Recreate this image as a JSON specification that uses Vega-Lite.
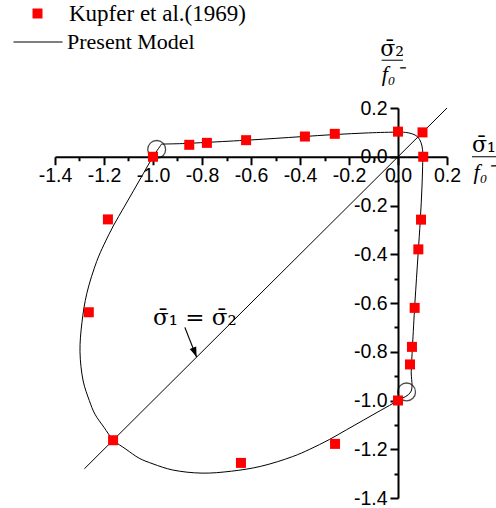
{
  "$schema": "https://vega.github.io/schema/vega-lite/v6.json",
  "width": 392,
  "height": 390,
  "autosize": {"type": "none"},
  "padding": {"left": 55, "top": 108, "right": 49, "bottom": 10},
  "background": "white",
  "config": {
    "view": {"stroke": null},
    "axis": {
      "grid": false,
      "title": null,
      "domainColor": "black",
      "domainWidth": 2,
      "tickColor": "black",
      "tickWidth": 2,
      "labelColor": "black",
      "labelFont": "Liberation Sans",
      "labelFontSize": 19.5,
      "labelOverlap": false,
      "labelFlush": false,
      "labelBound": false
    }
  },
  "datasets": {
    "kupfer": [
      {"x": -1.0, "y": 0.0}, {"x": 0.0, "y": -1.0},
      {"x": -0.852, "y": 0.049}, {"x": 0.049, "y": -0.852},
      {"x": -0.78, "y": 0.057}, {"x": 0.057, "y": -0.78},
      {"x": -0.62, "y": 0.068}, {"x": 0.068, "y": -0.62},
      {"x": -0.38, "y": 0.083}, {"x": 0.083, "y": -0.38},
      {"x": -0.258, "y": 0.094}, {"x": 0.094, "y": -0.258},
      {"x": 0.0, "y": 0.103}, {"x": 0.103, "y": 0.0},
      {"x": 0.1, "y": 0.1},
      {"x": -1.163, "y": -1.163},
      {"x": -1.262, "y": -0.638}, {"x": -0.641, "y": -1.256},
      {"x": -1.184, "y": -0.257}, {"x": -0.257, "y": -1.178}
    ],
    "model": [
      {"i": 1, "x": -0.965, "y": 0.052},
      {"i": 2, "x": -0.88, "y": 0.054},
      {"i": 3, "x": -0.78, "y": 0.059},
      {"i": 4, "x": -0.6, "y": 0.069},
      {"i": 5, "x": -0.4, "y": 0.082},
      {"i": 6, "x": -0.26, "y": 0.091},
      {"i": 7, "x": -0.12, "y": 0.098},
      {"i": 8, "x": 0.0, "y": 0.101},
      {"i": 9, "x": 0.03, "y": 0.1},
      {"i": 10, "x": 0.058, "y": 0.094},
      {"i": 11, "x": 0.08, "y": 0.082},
      {"i": 12, "x": 0.094, "y": 0.058},
      {"i": 13, "x": 0.1, "y": 0.03},
      {"i": 14, "x": 0.101, "y": 0.0},
      {"i": 15, "x": 0.098, "y": -0.12},
      {"i": 16, "x": 0.091, "y": -0.26},
      {"i": 17, "x": 0.082, "y": -0.4},
      {"i": 18, "x": 0.069, "y": -0.6},
      {"i": 19, "x": 0.059, "y": -0.78},
      {"i": 20, "x": 0.054, "y": -0.88},
      {"i": 21, "x": 0.052, "y": -0.965},
      {"i": 22, "x": 0.0, "y": -1.0},
      {"i": 23, "x": -0.07, "y": -1.04},
      {"i": 24, "x": -0.14, "y": -1.08},
      {"i": 25, "x": -0.21, "y": -1.12},
      {"i": 26, "x": -0.28, "y": -1.16},
      {"i": 27, "x": -0.36, "y": -1.2},
      {"i": 28, "x": -0.43, "y": -1.23},
      {"i": 29, "x": -0.56, "y": -1.27},
      {"i": 30, "x": -0.68, "y": -1.29},
      {"i": 31, "x": -0.8, "y": -1.298},
      {"i": 32, "x": -0.92, "y": -1.285},
      {"i": 33, "x": -1.0, "y": -1.26},
      {"i": 34, "x": -1.056, "y": -1.237},
      {"i": 35, "x": -1.11, "y": -1.2},
      {"i": 36, "x": -1.162, "y": -1.162},
      {"i": 37, "x": -1.2, "y": -1.11},
      {"i": 38, "x": -1.237, "y": -1.056},
      {"i": 39, "x": -1.26, "y": -1.0},
      {"i": 40, "x": -1.285, "y": -0.92},
      {"i": 41, "x": -1.298, "y": -0.8},
      {"i": 42, "x": -1.29, "y": -0.68},
      {"i": 43, "x": -1.27, "y": -0.56},
      {"i": 44, "x": -1.23, "y": -0.43},
      {"i": 45, "x": -1.2, "y": -0.36},
      {"i": 46, "x": -1.16, "y": -0.28},
      {"i": 47, "x": -1.12, "y": -0.21},
      {"i": 48, "x": -1.08, "y": -0.14},
      {"i": 49, "x": -1.04, "y": -0.07},
      {"i": 50, "x": -1.0, "y": 0.0},
      {"i": 51, "x": -0.965, "y": 0.052}
    ],
    "diag": [{"x": -1.28, "y": -1.28}, {"x": 0.2, "y": 0.2}],
    "rings": [{"x": -0.985, "y": 0.03}, {"x": 0.035, "y": -0.965}],
    "arrow": [{"x": -0.87, "y": -0.70, "x2": -0.822, "y2": -0.822}],
    "note": [{"x": -0.829, "y": -0.69, "t": "\u03c3\u0304\u2081 = \u03c3\u0304\u2082"}],
    "num": [
      {"x": 0.351, "y": 0.018, "t": "\u03c3\u0304\u2081"},
      {"x": -0.024, "y": 0.412, "t": "\u03c3\u0304\u2082"}
    ],
    "den": [
      {"x": 0.351, "y": -0.02, "t": "f\u2080\u207b"},
      {"x": -0.024, "y": 0.38, "t": "f\u2080\u207b"}
    ],
    "bars": [
      {"x": 0.302, "x2": 0.404, "y": 0.0},
      {"x": -0.067, "x2": 0.02, "y": 0.396}
    ]
  },
  "encoding": {
    "x": {"field": "x", "type": "quantitative", "scale": {"domain": [-1.4, 0.2], "nice": false, "zero": false}, "axis": null},
    "y": {"field": "y", "type": "quantitative", "scale": {"domain": [-1.4, 0.2], "nice": false, "zero": false}, "axis": null}
  },
  "layer": [
    {
      "data": {"name": "diag"},
      "mark": {"type": "line", "color": "black", "strokeWidth": 1},
      "encoding": {
        "x": {
          "field": "x", "type": "quantitative",
          "scale": {"domain": [-1.4, 0.2], "nice": false, "zero": false},
          "axis": {
            "orient": "bottom", "offset": -341.25,
            "values": [-1.4, -1.2, -1.0, -0.8, -0.6, -0.4, -0.2, 0.0, 0.2],
            "format": ".1f", "labelExpr": "replace(datum.label, '\u2212', '-')",
            "tickSize": 8, "labelPadding": 2
          }
        },
        "y": {
          "field": "y", "type": "quantitative",
          "scale": {"domain": [-1.4, 0.2], "nice": false, "zero": false},
          "axis": {
            "orient": "left", "offset": -343,
            "values": [-1.4, -1.2, -1.0, -0.8, -0.6, -0.4, -0.2, 0.0, 0.2],
            "format": ".1f", "labelExpr": "replace(datum.label, '\u2212', '-')",
            "tickSize": 8, "labelPadding": 3
          }
        }
      }
    },
    {
      "data": {"name": "diag"},
      "mark": {"type": "line", "strokeOpacity": 0},
      "encoding": {
        "x": {
          "field": "x", "type": "quantitative",
          "scale": {"domain": [-1.4, 0.2], "nice": false, "zero": false},
          "axis": {
            "orient": "bottom", "offset": -341.25, "domain": false, "labels": false,
            "values": [-1.3, -1.1, -0.9, -0.7, -0.5, -0.3, -0.1, 0.1],
            "tickSize": 4
          }
        },
        "y": {
          "field": "y", "type": "quantitative",
          "scale": {"domain": [-1.4, 0.2], "nice": false, "zero": false},
          "axis": {
            "orient": "left", "offset": -343, "domain": false, "labels": false,
            "values": [-1.3, -1.1, -0.9, -0.7, -0.5, -0.3, -0.1, 0.1],
            "tickSize": 4
          }
        }
      }
    },
    {
      "data": {"name": "model"},
      "mark": {"type": "line", "strokeWidth": 1, "interpolate": "catmull-rom"},
      "encoding": {
        "order": {"field": "i", "type": "quantitative"},
        "stroke": {
          "datum": "Present Model",
          "scale": {"range": ["black"]},
          "legend": {
            "orient": "none", "legendX": -42, "legendY": -91, "title": null, "padding": 0,
            "symbolType": "stroke", "symbolSize": 2401, "symbolStrokeWidth": 1,
            "labelFont": "Liberation Serif", "labelFontSize": 22, "labelColor": "black", "labelOffset": 4, "labelLimit": 0
          }
        }
      }
    },
    {
      "data": {"name": "rings"},
      "mark": {"type": "point", "shape": "circle", "size": 320, "filled": false, "color": "black", "strokeWidth": 1.3}
    },
    {
      "data": {"name": "kupfer"},
      "mark": {"type": "point", "shape": "square", "size": 100, "filled": true, "opacity": 1, "strokeWidth": 0},
      "encoding": {
        "fill": {
          "datum": "Kupfer et al.(1969)",
          "scale": {"range": ["#ff0000"]},
          "legend": {
            "orient": "none", "legendX": -29, "legendY": -106, "title": null, "padding": 0,
            "symbolType": "square", "symbolSize": 100, "symbolStrokeWidth": 0, "symbolOpacity": 1,
            "labelFont": "Liberation Serif", "labelFontSize": 23, "labelColor": "black", "labelOffset": 20, "labelLimit": 0
          }
        }
      }
    },
    {
      "data": {"name": "arrow"},
      "mark": {"type": "rule", "color": "black", "strokeWidth": 1.2},
      "encoding": {
        "x2": {"field": "x2"},
        "y2": {"field": "y2"}
      }
    },
    {
      "data": {"name": "arrow"},
      "mark": {"type": "point", "shape": "M0,0L-0.35,-1L0.35,-1Z", "size": 400, "filled": true, "color": "black", "strokeWidth": 0, "angle": -21.5, "opacity": 1},
      "encoding": {
        "x": {"field": "x2", "type": "quantitative", "scale": {"domain": [-1.4, 0.2], "nice": false, "zero": false}, "axis": null},
        "y": {"field": "y2", "type": "quantitative", "scale": {"domain": [-1.4, 0.2], "nice": false, "zero": false}, "axis": null}
      }
    },
    {
      "data": {"name": "note"},
      "mark": {"type": "text", "font": "DejaVu Serif", "fontSize": 23, "align": "center", "baseline": "alphabetic", "color": "black"},
      "encoding": {"text": {"field": "t"}}
    },
    {
      "data": {"name": "num"},
      "mark": {"type": "text", "font": "DejaVu Serif", "fontSize": 22, "align": "center", "baseline": "alphabetic", "color": "black"},
      "encoding": {"text": {"field": "t"}}
    },
    {
      "data": {"name": "den"},
      "mark": {"type": "text", "font": "Liberation Serif", "fontStyle": "italic", "fontSize": 22, "align": "center", "baseline": "top", "color": "black"},
      "encoding": {"text": {"field": "t"}}
    },
    {
      "data": {"name": "bars"},
      "mark": {"type": "rule", "color": "black", "strokeWidth": 1},
      "encoding": {"x2": {"field": "x2"}}
    }
  ],
  "resolve": {"axis": {"x": "independent", "y": "independent"}}
}
